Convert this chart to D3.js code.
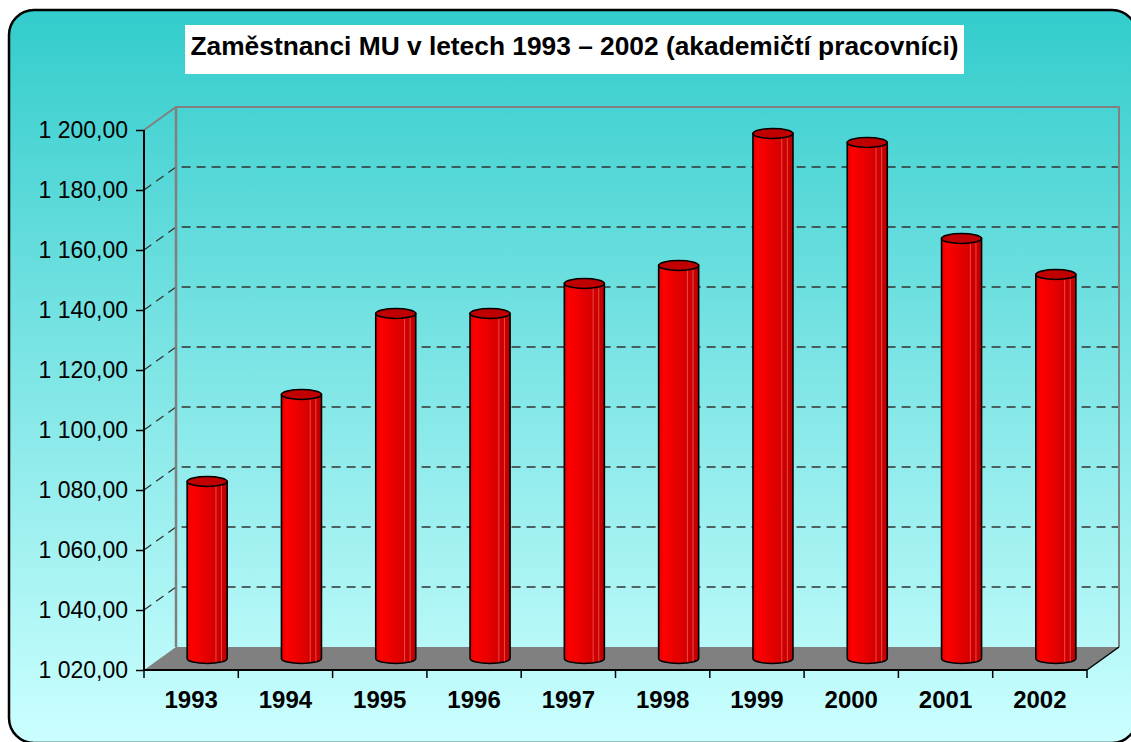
<!DOCTYPE html>
<html>
<head>
<meta charset="utf-8">
<script src="https://cdn.jsdelivr.net/npm/d3@7.9.0/dist/d3.min.js"></script>
<style>
  html, body { margin: 0; padding: 0; background: #fff; }
  svg { display: block; font-family: 'Liberation Sans', Arial, sans-serif; }
</style>
</head>
<body>
<svg id="chart" width="1131" height="742"></svg>
<script>
const title = 'Zaměstnanci MU v letech 1993 – 2002 (akademičtí pracovníci)';
const years = ['1993', '1994', '1995', '1996', '1997', '1998', '1999', '2000', '2001', '2002'];
const staff = [1079, 1108, 1135, 1135, 1145, 1151, 1195, 1192, 1160, 1148];
const yTicks = [1020, 1040, 1060, 1080, 1100, 1120, 1140, 1160, 1180, 1200];

const svg = d3.select('#chart');
const defs = svg.append('defs');

// 3D depth offset of the back wall
const dx = 32;
const dy = -23;

const x = d3.scaleBand().domain(years).range([144, 1087]);
const y = d3.scaleLinear().domain([1020, 1200]).range([670, 130]);

const fmt = d3.formatLocale({ decimal: ',', thousands: ' ', grouping: [3], currency: ['', ''] }).format(',.2f');

const bg = defs.append('linearGradient').attr('id', 'bg').attr('x1', 0).attr('y1', 0).attr('x2', 0).attr('y2', 1);
bg.append('stop').attr('offset', '0%').attr('stop-color', '#33CCCC');
bg.append('stop').attr('offset', '100%').attr('stop-color', '#CCFFFF');

const barGrad = defs.append('linearGradient').attr('id', 'bar').attr('x1', 0).attr('y1', 0).attr('x2', 1).attr('y2', 0);
barGrad.append('stop').attr('offset', '0%').attr('stop-color', '#E00000');
barGrad.append('stop').attr('offset', '12%').attr('stop-color', '#FF0000');
barGrad.append('stop').attr('offset', '100%').attr('stop-color', '#BF0000');

svg.append('rect')
  .attr('x', 9).attr('y', 10)
  .attr('width', 1128).attr('height', 733)
  .attr('rx', 25).attr('ry', 25)
  .attr('fill', 'url(#bg)')
  .attr('stroke', '#000')
  .attr('stroke-width', 2.5);

const x0 = x.range()[0];
const x1 = x.range()[1];
const yBase = y(1020);
const yTop = y(1200);

// floor
svg.append('path')
  .attr('d', `M${x0},${yBase}L${x1},${yBase}L${x1 + dx},${yBase + dy}L${x0 + dx},${yBase + dy}Z`)
  .attr('fill', '#808080');

// dashed gridlines on the side and back walls
svg.append('g')
  .selectAll('path')
  .data(yTicks.filter((v) => v > 1020 && v < 1200))
  .join('path')
  .attr('d', (v) => `M${x0},${y(v)}L${x0 + dx},${y(v) + dy}L${x1 + dx},${y(v) + dy}`)
  .attr('fill', 'none')
  .attr('stroke', '#333')
  .attr('stroke-width', 1.3)
  .attr('stroke-dasharray', '9,6');

// back wall edges
svg.append('path')
  .attr('d', `M${x0},${yTop}L${x0 + dx},${yTop + dy}L${x1 + dx},${yTop + dy}L${x1 + dx},${yBase + dy}`)
  .attr('fill', 'none')
  .attr('stroke', '#808080')
  .attr('stroke-width', 2);
svg.append('path')
  .attr('d', `M${x0 + dx},${yTop + dy}L${x0 + dx},${yBase + dy}`)
  .attr('stroke', '#808080')
  .attr('stroke-width', 2.5);
svg.append('path')
  .attr('d', `M${x1},${yBase}L${x1 + dx},${yBase + dy}`)
  .attr('stroke', '#000')
  .attr('stroke-width', 1.5);

// y axis
const yAxis = svg.append('g')
  .attr('transform', `translate(${x0},0)`)
  .call(d3.axisLeft(y).tickValues(yTicks).tickSize(8).tickPadding(8).tickFormat(fmt));
yAxis.select('.domain').attr('stroke', '#000').attr('stroke-width', 2).attr('d', `M0,${yTop}V${yBase}`);
yAxis.selectAll('.tick line').attr('stroke', '#000').attr('stroke-width', 1.5);
yAxis.selectAll('.tick text')
  .attr('font-size', 23)
  .attr('font-family', "'Liberation Sans', Arial, sans-serif")
  .attr('fill', '#000');

// x axis: ticks sit on category boundaries
const xAxis = svg.append('g');
xAxis.append('line')
  .attr('x1', x0).attr('x2', x1)
  .attr('y1', yBase).attr('y2', yBase)
  .attr('stroke', '#000').attr('stroke-width', 2);
xAxis.selectAll('line.tk')
  .data(d3.range(years.length + 1))
  .join('line')
  .attr('class', 'tk')
  .attr('x1', (i) => x0 + i * x.step())
  .attr('x2', (i) => x0 + i * x.step())
  .attr('y1', yBase).attr('y2', yBase + 8)
  .attr('stroke', '#000').attr('stroke-width', 1.5);
xAxis.selectAll('text')
  .data(years)
  .join('text')
  .attr('x', (d) => x(d) + x.bandwidth() / 2)
  .attr('y', 708)
  .attr('text-anchor', 'middle')
  .attr('font-size', 24)
  .attr('font-weight', 'bold')
  .attr('fill', '#000')
  .text((d) => d);

// cylinders
const r = 20;
const ry = 5;
const bars = svg.append('g')
  .selectAll('g')
  .data(years.map((year, i) => ({ year, value: staff[i] })))
  .join('g');

bars.each(function (d) {
  const g = d3.select(this);
  const cx = x(d.year) + x.bandwidth() / 2 + dx / 2;
  const top = y(d.value) + dy / 2;
  const base = yBase + dy / 2;
  g.append('path')
    .attr('d', `M${cx - r},${top}L${cx - r},${base}A${r},${ry} 0 0 0 ${cx + r},${base}L${cx + r},${top}Z`)
    .attr('fill', 'url(#bar)')
    .attr('stroke', '#000')
    .attr('stroke-width', 1.6);
  [0.72, 0.86].forEach((f) => {
    const lx = cx - r + 2 * r * f;
    g.append('line')
      .attr('x1', lx).attr('x2', lx)
      .attr('y1', top + 3).attr('y2', base + 3)
      .attr('stroke', '#FF8080')
      .attr('stroke-opacity', 0.7)
      .attr('stroke-width', 0.8);
  });
  g.append('ellipse')
    .attr('cx', cx).attr('cy', top)
    .attr('rx', r).attr('ry', ry)
    .attr('fill', '#C00000')
    .attr('stroke', '#000')
    .attr('stroke-width', 1.6);
});

// title
svg.append('rect')
  .attr('x', 185).attr('y', 25)
  .attr('width', 779).attr('height', 49)
  .attr('fill', '#fff');
svg.append('text')
  .attr('x', 574.5).attr('y', 55)
  .attr('text-anchor', 'middle')
  .attr('font-size', 26)
  .attr('font-weight', 'bold')
  .attr('textLength', 768)
  .attr('lengthAdjust', 'spacingAndGlyphs')
  .attr('fill', '#000')
  .text(title);
</script>
</body>
</html>
